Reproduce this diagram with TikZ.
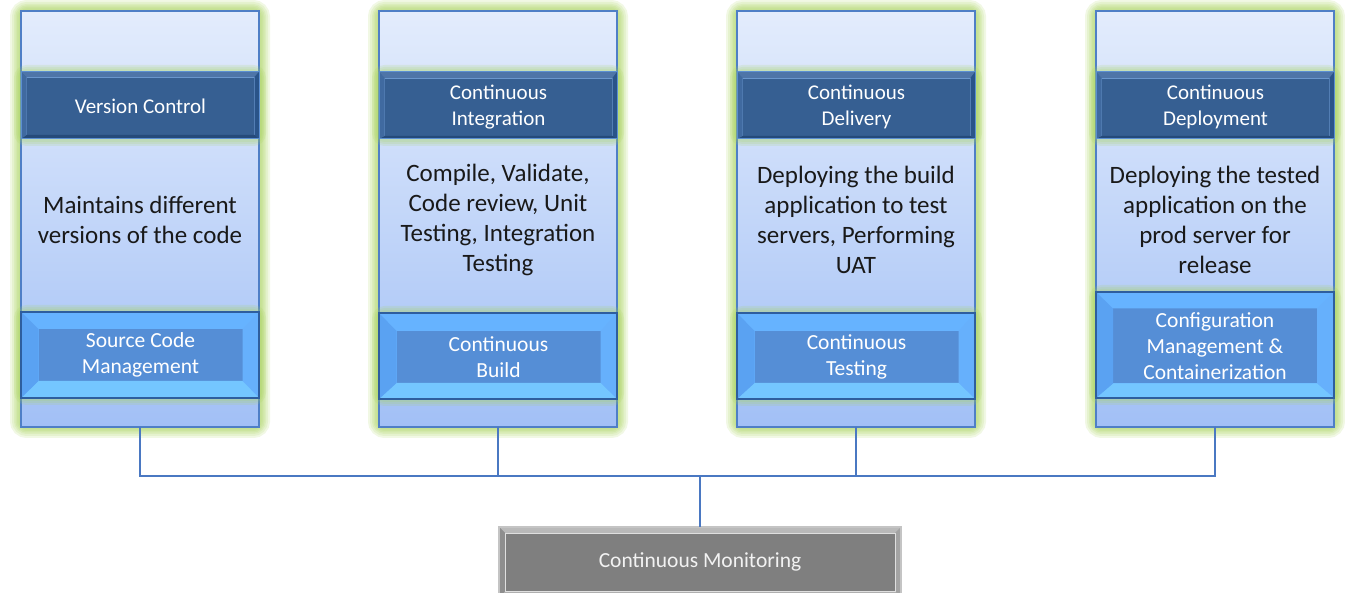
\documentclass[tikz,border=0pt]{standalone}
\usepackage{fontspec}
\setmainfont{Carlito}
\usetikzlibrary{backgrounds}
\pgfdeclarelayer{bgglow}
\pgfdeclarelayer{midglow}
\pgfsetlayers{bgglow,background,midglow,main}
\definecolor{colTop}{HTML}{E3ECFC}
\definecolor{colBot}{HTML}{A2C0F6}
\definecolor{colEdge}{HTML}{4F7FC6}
\definecolor{glowC}{HTML}{A8D45C}
\definecolor{hdOuter}{HTML}{2F5D98}
\definecolor{hdEdge}{HTML}{5B8FD2}
\definecolor{hdInner}{HTML}{365F92}
\definecolor{hdInEdge}{HTML}{6A96CC}
\definecolor{btBorder}{HTML}{2E5E9E}
\definecolor{btTop}{HTML}{66B3FF}
\definecolor{btLeft}{HTML}{5AA2F2}
\definecolor{btBot}{HTML}{74C6FF}
\definecolor{btRight}{HTML}{66B0FC}
\definecolor{btInner}{HTML}{558ED6}
\definecolor{lineC}{HTML}{4A78C2}
\definecolor{mnOuter}{HTML}{C4C4C4}
\definecolor{mnTop}{HTML}{B9B9B9}
\definecolor{mnLeft}{HTML}{8E8E8E}
\definecolor{mnRight}{HTML}{A3A3A3}
\definecolor{mnBot}{HTML}{AFAFAF}
\definecolor{mnInner}{HTML}{7F7F7F}
\newcommand\mybevel[6]{%
 \fill[#3] (#1.north west) -- (#1.north east) -- (#2.north east) -- (#2.north west) -- cycle;
 \fill[#4] (#1.north east) -- (#1.south east) -- (#2.south east) -- (#2.north east) -- cycle;
 \fill[#5] (#1.south east) -- (#1.south west) -- (#2.south west) -- (#2.south east) -- cycle;
 \fill[#6] (#1.south west) -- (#1.north west) -- (#2.north west) -- (#2.south west) -- cycle;}
\tikzset{
  colbox/.style={rectangle, minimum width=238pt, minimum height=416pt, outer sep=0pt,
    top color=colTop, bottom color=colBot, draw=colEdge, line width=1.2pt},
  glowline/.style={draw=glowC, line width=#1, opacity=0.16, rounded corners=6pt},
  hdbox/.style={rectangle, minimum width=238pt, minimum height=67pt, outer sep=0pt, fill=hdOuter},
  hdin/.style={rectangle, minimum width=228pt, minimum height=58pt, outer sep=0pt, fill=hdInner,
    draw=hdInEdge, line width=0.8pt, text=white, align=center, font=\fontsize{21}{26}\selectfont},
  body/.style={align=center, text=black!90, font=\fontsize{25}{30}\selectfont},
  btbox/.style={rectangle, minimum width=238pt, outer sep=0pt, fill=btTop},
  btin/.style={rectangle, minimum width=204pt, outer sep=0pt, fill=btInner, text=white,
    align=center, font=\fontsize{21.5}{26}\selectfont},
  conn/.style={draw=lineC, line width=1.3pt},
}
\begin{document}
\begin{tikzpicture}[x=1pt,y=-1pt]
\useasboundingbox (0,0) rectangle (1345,593);
% columns
\begin{scope}[on background layer]
\node[colbox] (c1) at (140,219) {};
\node[colbox] (c2) at (498,219) {};
\node[colbox] (c3) at (856,219) {};
\node[colbox] (c4) at (1215,219) {};
\end{scope}
\begin{pgfonlayer}{bgglow}
\fill[white] (0,0) rectangle (1345,593);
\foreach \c in {c1,c2,c3,c4}{
  \foreach \w in {22,18,14,11,8,5}{
    \draw[glowline=\w pt] (\c.north west) rectangle (\c.south east);
  }
}
\end{pgfonlayer}
% headers
\node[hdbox] (h1) at (140,105.5) {};
\node[hdbox] (h2) at (498,105.5) {};
\node[hdbox] (h3) at (856,105.5) {};
\node[hdbox] (h4) at (1215,105.5) {};
\node[hdin] (hi1) at (140.5,106) {Version Control};
\node[hdin] (hi2) at (498.5,107) {Continuous\\Integration};
\node[hdin] (hi3) at (856.5,107) {Continuous\\Delivery};
\node[hdin] (hi4) at (1215.5,107) {Continuous\\Deployment};
\foreach \o/\i in {h1/hi1,h2/hi2,h3/hi3,h4/hi4}{
  \mybevel{\o}{\i}{hdOuter!85!white}{hdOuter!90!black}{hdOuter!80!black}{hdOuter!92!white}
  \draw[hdEdge, line width=1pt] (\o.north west) rectangle (\o.south east);
}
\begin{pgfonlayer}{midglow}
\foreach \o in {h1,h2,h3,h4}{
  \foreach \w in {14,10,6}{
    \draw[glowline=\w pt] (\o.north west) rectangle (\o.south east);
  }
}
\end{pgfonlayer}
% body texts
\node[body] (b1) at (140,220) {Maintains different\\versions of the code};
\node[body] (b2) at (498,220) {Compile, Validate,\\Code review, Unit\\Testing, Integration\\Testing};
\node[body] (b3) at (856,220) {Deploying the build\\application to test\\servers, Performing\\UAT};
\node[body] (b4) at (1215,220) {Deploying the tested\\application on the\\prod server for\\release};
% buttons
\node[btbox, minimum height=86pt] (s1) at (140,355) {};
\node[btbox, minimum height=86pt] (s2) at (498,356) {};
\node[btbox, minimum height=86pt] (s3) at (856,356) {};
\node[btbox, minimum height=106pt] (s4) at (1215,345) {};
\node[btin, minimum height=52pt] (si1) at (140.5,355) {Source Code\\Management};
\node[btin, minimum height=52pt] (si2) at (498.5,357) {Continuous\\Build};
\node[btin, minimum height=52pt] (si3) at (856.5,357) {Continuous\\Testing};
\node[btin, minimum height=75pt] (si4) at (1215,346) {Configuration\\Management \&\\Containerization};
\foreach \o/\i in {s1/si1,s2/si2,s3/si3,s4/si4}{
  \mybevel{\o}{\i}{btTop}{btRight}{btBot}{btLeft}
  \draw[btBorder, line width=2.6pt] (\o.north west) rectangle (\o.south east);
}
\begin{pgfonlayer}{midglow}
\foreach \o in {s1,s2,s3,s4}{
  \foreach \w in {14,10,6}{
    \draw[glowline=\w pt] (\o.north west) rectangle (\o.south east);
  }
}
\end{pgfonlayer}
% monitoring
\node[rectangle, minimum width=402pt, minimum height=72pt, outer sep=0pt, fill=mnRight] (mon) at (700,563) {};
\node[rectangle, minimum width=390pt, minimum height=58pt, outer sep=0pt, fill=mnInner,
  text=white!95!black, font=\fontsize{21.5}{26}\selectfont] (moni) at (700,562) {Continuous Monitoring};
\mybevel{mon}{moni}{mnTop}{mnRight}{mnBot}{mnLeft}
\draw[mnOuter, line width=1.5pt] (mon.north west) rectangle (mon.south east);
\draw[white!75!gray, line width=0.8pt] (moni.north west) rectangle (moni.south east);
% connectors
\coordinate (bus) at (700,476);
\draw[conn] (c1.south) |- (bus);
\draw[conn] (c2.south) |- (bus);
\draw[conn] (c3.south) |- (bus);
\draw[conn] (c4.south) |- (bus);
\draw[conn] (bus) -- (mon.north);
\end{tikzpicture}
\end{document}
